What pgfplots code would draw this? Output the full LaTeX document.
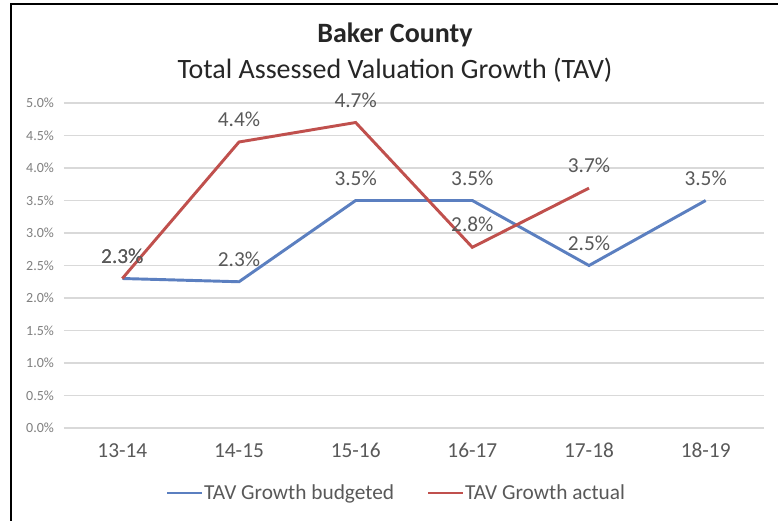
\documentclass[border=0pt]{standalone}
\usepackage{pgfplots}
\pgfplotsset{compat=1.18}
\usepackage{fontspec}
\setmainfont{Carlito}
\definecolor{tavblue}{HTML}{5B7FC0}
\definecolor{tavred}{HTML}{C0504D}
\definecolor{txtgray}{HTML}{595959}
\definecolor{tickgray}{HTML}{7F7F7F}
\definecolor{gridgray}{HTML}{D9D9D9}
\begin{document}
\begin{tikzpicture}[x=0.75pt,y=0.75pt]
\path[use as bounding box] (-64,-93) rectangle (714,428);
\fill[white] (-64,-93) rectangle (714,428);
\draw[line width=1.5pt] (-53,-93) -- (-53,424) -- (714,424);
\begin{axis}[
  at={(0,0)}, anchor=south west,
  scale only axis, width=525pt, height=243.75pt,
  xmin=-0.5, xmax=5.5, ymin=0, ymax=5,
  xtick={0,...,5}, xticklabels={13-14,14-15,15-16,16-17,17-18,18-19},
  ytick={0,0.5,...,5},
  yticklabel={\pgfmathprintnumber[fixed,fixed zerofill,precision=1]{\tick}\%},
  /pgf/number format/assume math mode=true,
  axis line style={draw=none}, major tick length=0,
  ymajorgrids, grid style={gridgray, line width=0.8pt},
  xticklabel style={font=\fontsize{16}{19}\selectfont, text=txtgray, yshift=-8pt},
  yticklabel style={font=\fontsize{10.5}{12}\selectfont, text=tickgray, xshift=-4pt},
  clip=false,
  legend style={at={(0.474,-0.2)}, anchor=center, draw=none, fill=none,
    legend columns=2, font=\fontsize{16}{19}\selectfont, text=txtgray,
    /tikz/every even column/.append style={column sep=24pt},
    inner sep=0pt, nodes={inner sep=0.5pt}},
  legend image code/.code={\draw[#1, line width=2.2pt] (0pt,0pt) -- (26pt,0pt);},
  every node near coord/.append style={font=\fontsize{16}{19}\selectfont, text=txtgray, anchor=center, yshift=17pt},
]
\addplot[tavblue, line width=2.2pt, nodes near coords, point meta=explicit symbolic]
  coordinates {(0,2.3)[2.3\%] (1,2.25)[2.3\%] (2,3.5)[3.5\%] (3,3.5)[3.5\%] (4,2.5)[2.5\%] (5,3.5)[3.5\%]};
\addlegendentry{TAV Growth budgeted}
\addplot[tavred, line width=2.2pt, nodes near coords, point meta=explicit symbolic]
  coordinates {(0,2.3)[2.3\%] (1,4.4)[4.4\%] (2,4.7)[4.7\%] (3,2.78)[2.8\%] (4,3.69)[3.7\%]};
\addlegendentry{TAV Growth actual}
\end{axis}
\node[font=\fontsize{21}{25}\selectfont\bfseries, text=black!85] at (331,393) {Baker County};
\node[font=\fontsize{21}{25}\selectfont, text=black!85] at (331,358) {Total Assessed Valuation Growth (TAV)};
\end{tikzpicture}
\end{document}
